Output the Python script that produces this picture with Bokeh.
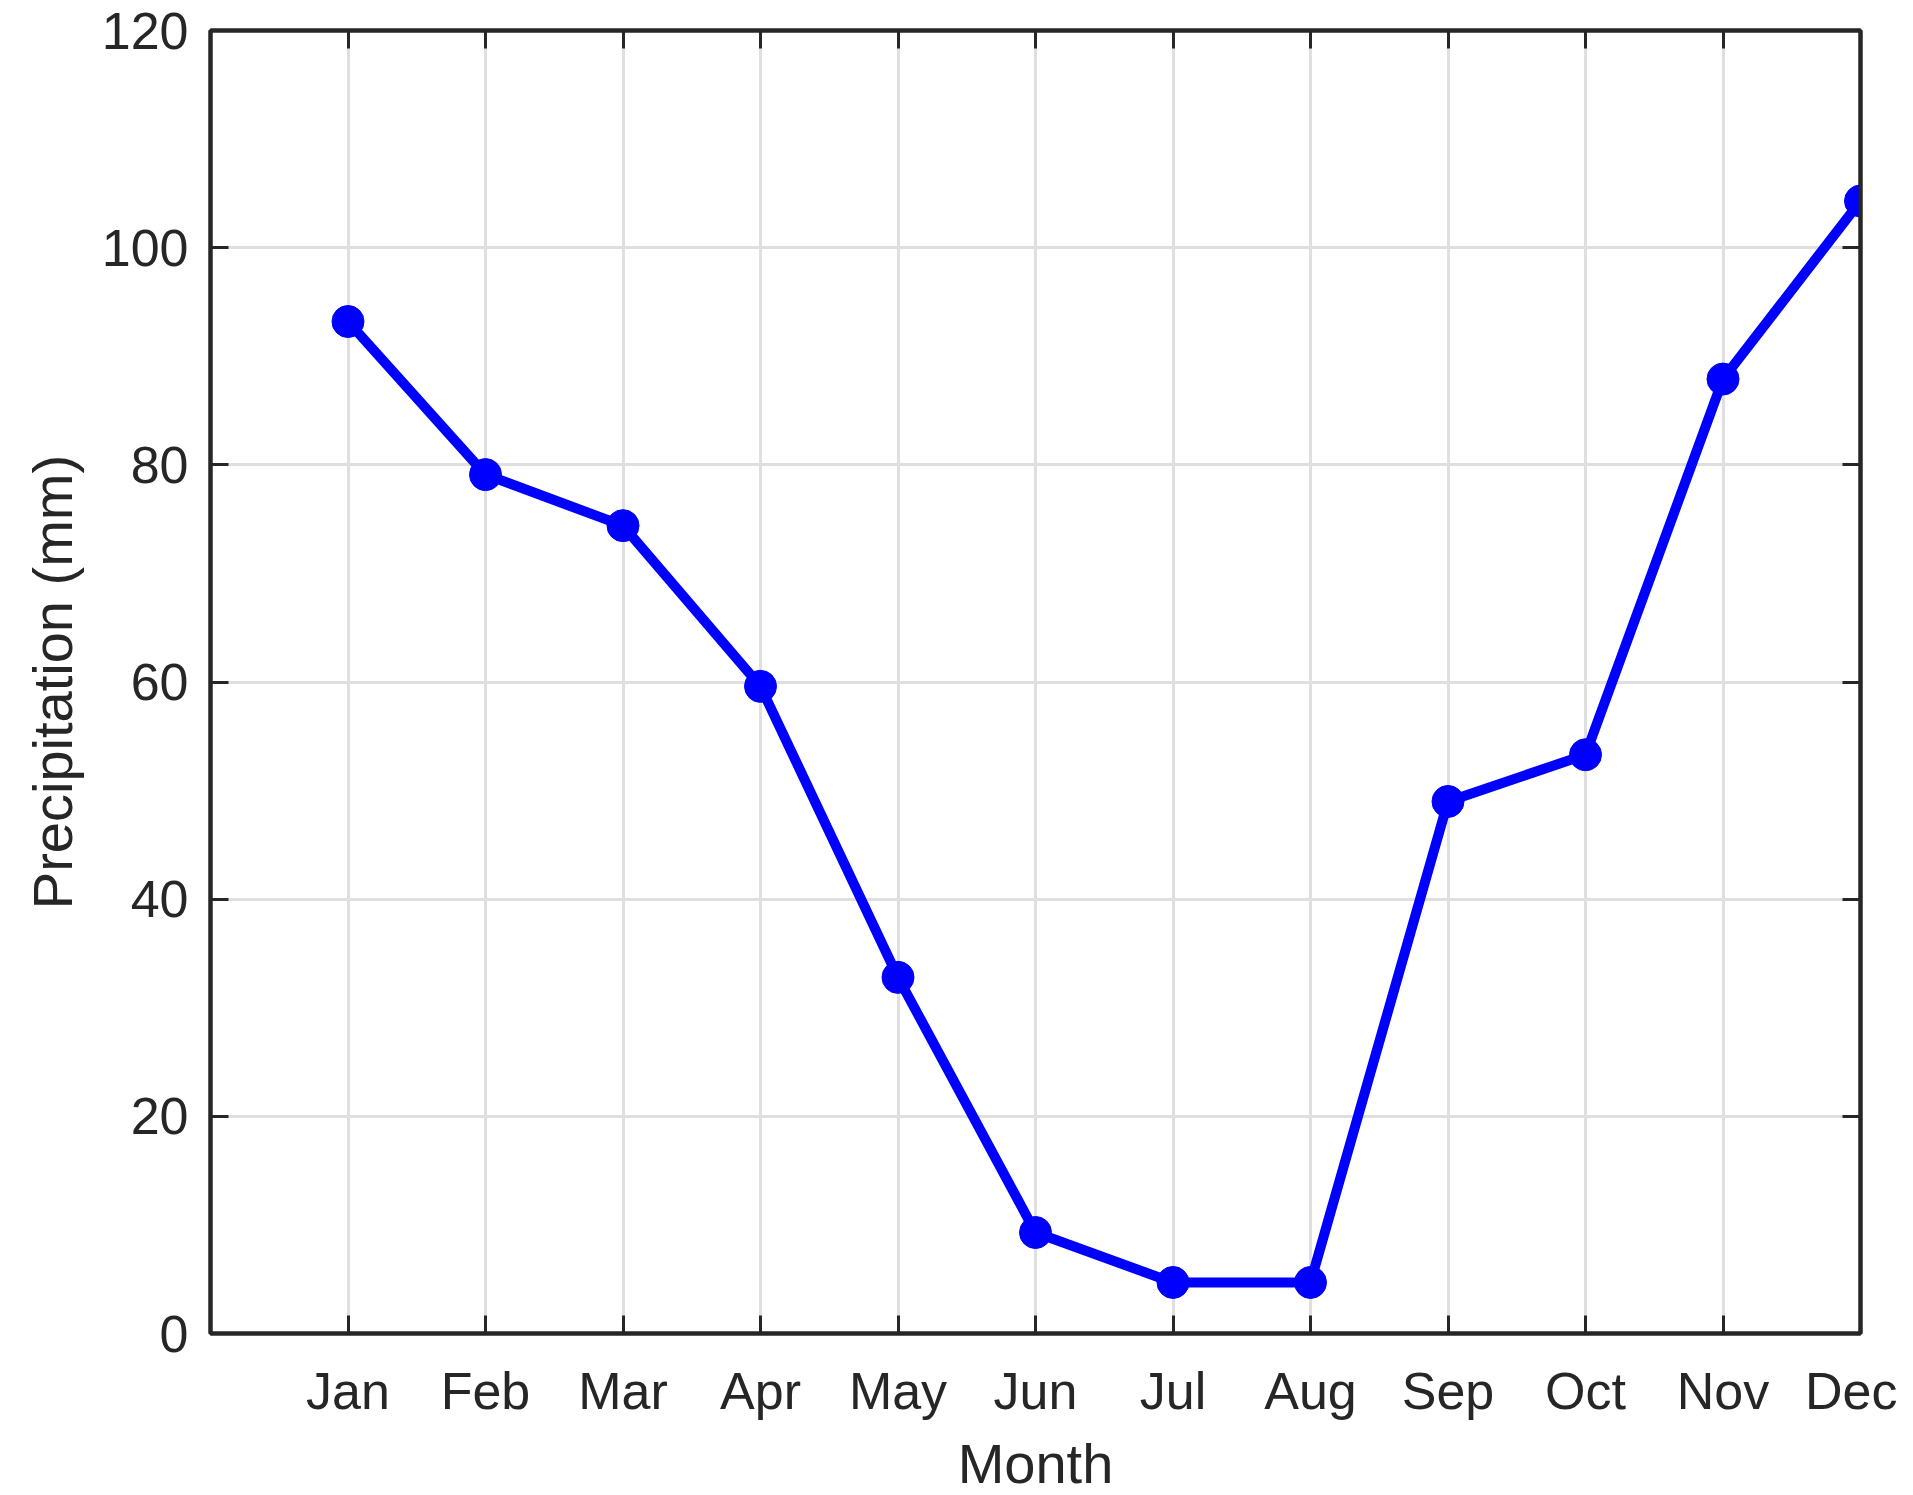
from bokeh.plotting import figure
from bokeh.models import LinearAxis, FixedTicker, Range1d
from bokeh.embed import file_html
from bokeh.resources import INLINE

months = ["Jan", "Feb", "Mar", "Apr", "May", "Jun", "Jul", "Aug", "Sep", "Oct", "Nov", "Dec"]
month_idx = list(range(1, 13))
precip = [93.2, 79.1, 74.4, 59.6, 32.8, 9.3, 4.7, 4.7, 49.0, 53.3, 87.9, 104.3]
y_ticks = [0, 20, 40, 60, 80, 100, 120]

FONT = "Liberation Sans"
INK = "#262626"
GRID = "#dfdfdf"

p = figure(width=1897, height=1479, output_backend="svg", toolbar_location=None,
           x_range=Range1d(0, 12), y_range=Range1d(0, 120),
           min_border_left=210, min_border_right=37, min_border_top=30, min_border_bottom=146)
p.frame_width = 1650
p.frame_height = 1303
p.outline_line_color = INK
p.outline_line_width = 4

label_map = {i: m for i, m in zip(month_idx, months)}

def style(ax, labels=True):
    ax.axis_line_color = INK
    ax.axis_line_width = 4
    ax.major_tick_line_color = INK
    ax.major_tick_line_width = 3
    ax.major_tick_in = 18
    ax.major_tick_out = 0
    ax.minor_tick_line_color = None
    ax.major_label_text_font = FONT
    ax.major_label_text_color = INK
    ax.major_label_text_font_size = "52px"
    ax.axis_label_text_font = FONT
    ax.axis_label_text_color = INK
    ax.axis_label_text_font_size = "56px"
    ax.axis_label_text_font_style = "normal"
    if not labels:
        ax.major_label_text_font_size = "1px"
        ax.major_label_text_color = None
        ax.major_label_standoff = 0

xb = p.xaxis[0]
xb.ticker = FixedTicker(ticks=month_idx)
xb.major_label_overrides = label_map
xb.axis_label = "Month"
style(xb)
xb.major_label_standoff = 28
xb.axis_label_standoff = 9

yl = p.yaxis[0]
yl.ticker = FixedTicker(ticks=y_ticks)
yl.axis_label = "Precipitation (mm)"
style(yl)
yl.major_label_standoff = 22
yl.axis_label_standoff = 15

xt = LinearAxis(ticker=FixedTicker(ticks=month_idx))
style(xt, labels=False)
p.add_layout(xt, "above")
yr = LinearAxis(ticker=FixedTicker(ticks=y_ticks))
style(yr, labels=False)
p.add_layout(yr, "right")

p.xgrid.ticker = FixedTicker(ticks=month_idx)
p.ygrid.ticker = FixedTicker(ticks=y_ticks)
p.grid.grid_line_color = GRID
p.grid.grid_line_width = 3

p.line(month_idx, precip, line_color="#0000ff", line_width=10)
p.scatter(month_idx, precip, size=32, fill_color="#0000ff", line_color="#0000ff")

open("out.html", "w").write(file_html(p, INLINE))
